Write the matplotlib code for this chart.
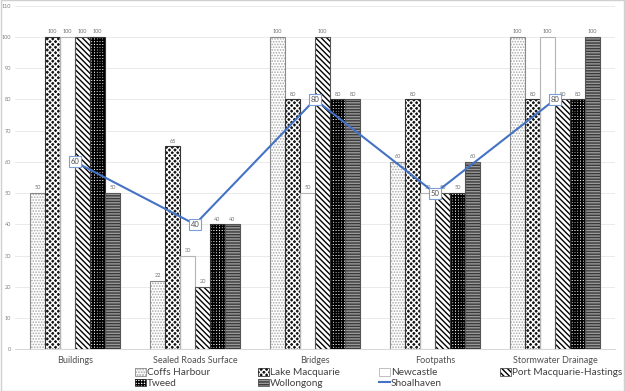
import numpy as np
import matplotlib.pyplot as plt

# categories and values
categories = ['Buildings', 'Sealed Roads Surface', 'Bridges', 'Footpaths', 'Stormwater Drainage']
coffs = [50, 22, 100, 60, 100]
lake = [100, 65, 80, 80, 80]
newcastle = [100, 30, 50, 50, 100]
port = [100, 20, 100, 50, 80]
tweed = [100, 40, 80, 50, 80]
wollongong = [50, 40, 80, 60, 100]
shoalhaven = [60, 40, 80, 50, 80]

# name, values, face, hatch colour, hatch, hatch width, outline
series = [
    ('Coffs Harbour', coffs, 'white', '#a8a8a8', '......', 0.8, '#8a8a8a'),
    ('Lake Macquarie', lake, '#151515', 'white', 'xxxxxx', 1.0, '#333333'),
    ('Newcastle', newcastle, 'white', 'white', None, 0.8, '#b5b5b5'),
    ('Port Macquarie-Hastings', port, 'white', 'black', '\\\\\\\\\\\\', 1.0, '#555555'),
    ('Tweed', tweed, 'white', 'black', '++++++', 1.2, '#333333'),
    ('Wollongong', wollongong, '#9a9a9a', '#3a3a3a', '------', 1.0, '#555555'),
]

plt.rcParams['font.family'] = ['Lato', 'DejaVu Sans']

fig = plt.figure(figsize=(6.25, 3.91), dpi=100)
ax = fig.add_axes([0.024, 0.107, 0.96, 0.878])

x = np.arange(len(categories))
w = 0.125
handles = {}
for i, (name, vals, fc, hc, hatch, hw, oc) in enumerate(series):
    off = (i - 2.5) * w
    plt.rcParams['hatch.linewidth'] = hw
    bars = ax.bar(x + off, vals, w, facecolor=fc, edgecolor=hc, hatch=hatch,
                  linewidth=0, zorder=2)
    outline = ax.bar(x + off, vals, w, fill=False, edgecolor=oc, linewidth=0.8, zorder=3)
    ax.bar_label(outline, padding=2, fontsize=4, color='#707070')
    handles[name] = (plt.Rectangle((0, 0), 1, 1, facecolor=fc, edgecolor=hc, hatch=hatch,
                                   linewidth=0),
                     plt.Rectangle((0, 0), 1, 1, fill=False, edgecolor=oc, linewidth=0.6))

line, = ax.plot(x, shoalhaven, color='#4472C4', linewidth=1.5, zorder=4)
handles['Shoalhaven'] = line
for xi, v in zip(x, shoalhaven):
    ax.text(xi, v, str(v), fontsize=5.5, color='#505050', ha='center', va='center', zorder=5,
            bbox=dict(boxstyle='square,pad=0.25', facecolor='white', edgecolor='#7a9fd8', linewidth=0.8))

ax.set_xlim(-0.5, 4.5)
ax.set_ylim(0, 110)
ax.set_yticks(range(0, 111, 10))
ax.set_xticks(x)
ax.set_xticklabels(categories, fontsize=6.5, color='#505050')
ax.tick_params(axis='y', labelsize=4, colors='#808080', length=0, pad=3)
ax.tick_params(axis='x', length=0, pad=5)
ax.grid(axis='y', color='#e6e6e6', linewidth=0.6, zorder=0)
ax.set_axisbelow(True)
for s in ['left', 'right', 'top']:
    ax.spines[s].set_visible(False)
ax.spines['bottom'].set_color('#d0d0d0')
ax.spines['bottom'].set_linewidth(0.6)

# legend laid out in four fixed columns
columns = [['Coffs Harbour', 'Tweed'], ['Lake Macquarie', 'Wollongong'],
           ['Newcastle', 'Shoalhaven'], ['Port Macquarie-Hastings']]
col_x = [0.216, 0.413, 0.606, 0.800]
for cx, names in zip(col_x, columns):
    leg = fig.legend([handles[n] for n in names], names, loc='upper left',
                     bbox_to_anchor=(cx, 0.058), frameon=False, fontsize=7.2,
                     handlelength=1.1, handleheight=0.75, handletextpad=0.12,
                     labelspacing=0.12, borderpad=0, borderaxespad=0)
    for t in leg.get_texts():
        t.set_color('#404040')

fig.patches.append(plt.Rectangle((0.001, 0.001), 0.998, 0.998, transform=fig.transFigure,
                                 fill=False, edgecolor='#d0d0d0', linewidth=1))

fig.savefig('out.png', dpi=100)
